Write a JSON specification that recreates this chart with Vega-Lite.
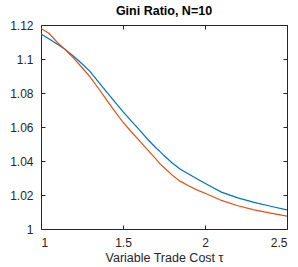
{
  "$schema": "https://vega.github.io/schema/vega-lite/v6.json",
  "autosize": "none",
  "width": 246,
  "height": 204,
  "padding": {"left": 41, "top": 25, "right": 11, "bottom": 38},
  "background": "white",
  "config": {
    "font": "Liberation Sans",
    "view": {"stroke": null},
    "axis": {"grid": false, "domainColor": "#262626", "tickColor": "#262626", "labelColor": "#262626", "titleColor": "#262626", "labelFontSize": 12, "titleFontSize": 12.5, "titleFontWeight": "normal", "tickSize": -4, "labelPadding": 12, "domainWidth": 1, "tickWidth": 1, "labelFont": "Liberation Sans", "titleFont": "Liberation Sans"}
  },
  "title": {"text": "Gini Ratio, N=10", "fontSize": 12.5, "fontWeight": "bold", "font": "Liberation Sans", "color": "#000000", "offset": 2, "anchor": "middle"},
  "data": {"values": [
    {"tau": 1.0, "s": "a", "g": 1.1147}, {"tau": 1.05, "s": "a", "g": 1.1117}, {"tau": 1.1, "s": "a", "g": 1.1087}, {"tau": 1.146, "s": "a", "g": 1.1057}, {"tau": 1.2, "s": "a", "g": 1.1015}, {"tau": 1.25, "s": "a", "g": 1.0972}, {"tau": 1.3, "s": "a", "g": 1.0926}, {"tau": 1.35, "s": "a", "g": 1.0866}, {"tau": 1.4, "s": "a", "g": 1.0806}, {"tau": 1.45, "s": "a", "g": 1.0748}, {"tau": 1.5, "s": "a", "g": 1.0690}, {"tau": 1.55, "s": "a", "g": 1.0636}, {"tau": 1.6, "s": "a", "g": 1.0583}, {"tau": 1.65, "s": "a", "g": 1.0528}, {"tau": 1.7, "s": "a", "g": 1.0478}, {"tau": 1.726, "s": "a", "g": 1.0455}, {"tau": 1.75, "s": "a", "g": 1.0432}, {"tau": 1.8, "s": "a", "g": 1.0388}, {"tau": 1.85, "s": "a", "g": 1.0352}, {"tau": 1.9, "s": "a", "g": 1.0323}, {"tau": 1.95, "s": "a", "g": 1.0295}, {"tau": 2.0, "s": "a", "g": 1.0269}, {"tau": 2.05, "s": "a", "g": 1.0243}, {"tau": 2.1, "s": "a", "g": 1.0217}, {"tau": 2.2, "s": "a", "g": 1.0183}, {"tau": 2.3, "s": "a", "g": 1.0157}, {"tau": 2.4, "s": "a", "g": 1.0134}, {"tau": 2.5, "s": "a", "g": 1.0112},
    {"tau": 1.0, "s": "b", "g": 1.1180}, {"tau": 1.05, "s": "b", "g": 1.1150}, {"tau": 1.1, "s": "b", "g": 1.1097}, {"tau": 1.146, "s": "b", "g": 1.1057}, {"tau": 1.2, "s": "b", "g": 1.1004}, {"tau": 1.25, "s": "b", "g": 1.0950}, {"tau": 1.3, "s": "b", "g": 1.0893}, {"tau": 1.35, "s": "b", "g": 1.0828}, {"tau": 1.4, "s": "b", "g": 1.0760}, {"tau": 1.45, "s": "b", "g": 1.0692}, {"tau": 1.5, "s": "b", "g": 1.0628}, {"tau": 1.55, "s": "b", "g": 1.0572}, {"tau": 1.6, "s": "b", "g": 1.0520}, {"tau": 1.65, "s": "b", "g": 1.0465}, {"tau": 1.7, "s": "b", "g": 1.0412}, {"tau": 1.726, "s": "b", "g": 1.0383}, {"tau": 1.75, "s": "b", "g": 1.0362}, {"tau": 1.8, "s": "b", "g": 1.0317}, {"tau": 1.85, "s": "b", "g": 1.0280}, {"tau": 1.9, "s": "b", "g": 1.0254}, {"tau": 1.95, "s": "b", "g": 1.0230}, {"tau": 2.0, "s": "b", "g": 1.0210}, {"tau": 2.05, "s": "b", "g": 1.0190}, {"tau": 2.1, "s": "b", "g": 1.0168}, {"tau": 2.2, "s": "b", "g": 1.0137}, {"tau": 2.3, "s": "b", "g": 1.0113}, {"tau": 2.4, "s": "b", "g": 1.0093}, {"tau": 2.5, "s": "b", "g": 1.0076}
  ]},
  "layer": [
    {
      "mark": {"type": "line", "strokeWidth": 1.2, "clip": true},
      "encoding": {
        "x": {"field": "tau", "type": "quantitative", "scale": {"domain": [1, 2.5], "nice": false, "zero": false}, "axis": {"orient": "bottom", "values": [1, 1.5, 2, 2.5], "format": "~g", "title": "Variable Trade Cost τ", "titlePadding": 3}},
        "y": {"field": "g", "type": "quantitative", "scale": {"domain": [1, 1.12], "nice": false, "zero": false}, "axis": {"orient": "left", "values": [1, 1.02, 1.04, 1.06, 1.08, 1.1, 1.12], "format": "~g", "title": null}},
        "color": {"field": "s", "type": "nominal", "scale": {"domain": ["a", "b"], "range": ["#0072BD", "#D95319"]}, "legend": null}
      }
    },
    {
      "mark": {"type": "line", "opacity": 0},
      "encoding": {
        "x": {"field": "tau", "type": "quantitative", "scale": {"domain": [1, 2.5], "nice": false, "zero": false}, "axis": {"orient": "top", "values": [1, 1.5, 2, 2.5], "labels": false, "title": null}},
        "y": {"field": "g", "type": "quantitative", "scale": {"domain": [1, 1.12], "nice": false, "zero": false}, "axis": {"orient": "right", "values": [1, 1.02, 1.04, 1.06, 1.08, 1.1, 1.12], "labels": false, "title": null}},
        "detail": {"field": "s", "type": "nominal"}
      }
    }
  ],
  "resolve": {"axis": {"x": "independent", "y": "independent"}}
}
